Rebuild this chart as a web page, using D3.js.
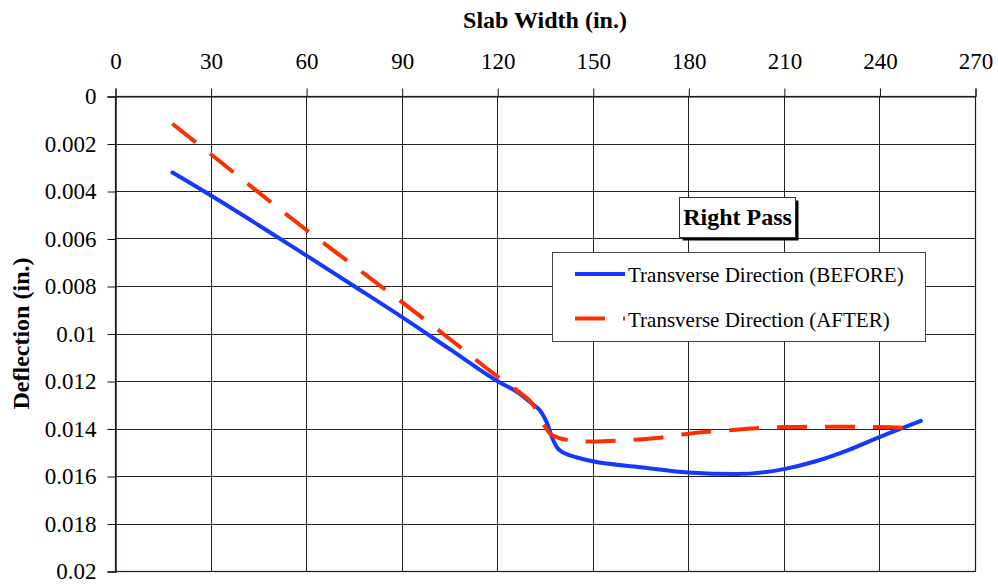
<!DOCTYPE html>
<html>
<head>
<meta charset="utf-8">
<script src="https://cdn.jsdelivr.net/npm/d3@7"></script>
<style>
  body { margin: 0; background: #fff; }
  text { font-family: "Liberation Serif", "Times New Roman", serif; fill: #000; }
  .tickLabel { font-size: 23px; }
  .axisTitle { font-size: 24px; font-weight: bold; }
  .legendText { font-size: 21px; }
</style>
</head>
<body>
<div class="chart-div"></div>
<script>
// slab width positions (in.) and deflections (in.)
const beforeX = [18, 30, 45, 60, 75, 90, 105, 120, 127, 131.3, 133.5, 135.5, 137.3, 138.7, 140.2, 142, 145, 150, 165, 180, 195, 210, 220, 230, 240, 253];
const beforeY = [0.00322, 0.00418, 0.00543, 0.00671, 0.00800, 0.0093, 0.01065, 0.0120, 0.01253, 0.0130, 0.01325, 0.01373, 0.0144, 0.01478, 0.01497, 0.01509, 0.01522, 0.01538, 0.01563, 0.01585, 0.01592, 0.01571, 0.01538, 0.01492, 0.01436, 0.01368];

const afterX = [18, 30, 45, 60, 75, 90, 105, 120, 127, 131, 134.4, 136.5, 139, 145, 150, 160, 170, 180, 190, 200, 210, 220, 230, 240, 253];
const afterY = [0.00117, 0.00244, 0.00405, 0.00563, 0.00715, 0.00867, 0.01022, 0.0118, 0.01248, 0.01295, 0.0138, 0.0142, 0.01438, 0.01452, 0.01455, 0.0145, 0.0144, 0.01422, 0.0141, 0.0140, 0.01394, 0.01393, 0.01393, 0.01394, 0.0140];

const xTicks = [0, 30, 60, 90, 120, 150, 180, 210, 240, 270];
const yTicks = [0, 0.002, 0.004, 0.006, 0.008, 0.01, 0.012, 0.014, 0.016, 0.018, 0.02];

const seriesNames = ["Transverse Direction (BEFORE)", "Transverse Direction (AFTER)"];
const seriesColours = ["#1438ff", "#ff2e00"];

let width = 998;
let height = 586;

const margin = { top: 96, right: 23, bottom: 15, left: 115 };

let svg = d3.select(".chart-div").append("svg")
  .attr("width", width)
  .attr("height", height);

let x = d3.scaleLinear()
  .domain([0, 270])
  .range([margin.left, width - margin.right]);

let y = d3.scaleLinear()
  .domain([0, 0.02])
  .range([margin.top, height - margin.bottom]);

// grid
svg.append("g")
  .attr("class", "grid")
  .selectAll("line.v")
  .data(xTicks)
  .enter()
  .append("line")
  .attr("x1", d => Math.round(x(d)) + 0.5)
  .attr("x2", d => Math.round(x(d)) + 0.5)
  .attr("y1", y(0))
  .attr("y2", y(0.02))
  .attr("stroke", "#222")
  .attr("stroke-width", 1);

svg.select(".grid")
  .selectAll("line.h")
  .data(yTicks)
  .enter()
  .append("line")
  .attr("x1", x(0))
  .attr("x2", x(270))
  .attr("y1", d => Math.round(y(d)) + 0.5)
  .attr("y2", d => Math.round(y(d)) + 0.5)
  .attr("stroke", "#222")
  .attr("stroke-width", 1);

// axes
let xAxis = d3.axisTop(x)
  .tickValues(xTicks)
  .tickSize(8)
  .tickPadding(20)
  .tickFormat(d => d);

let yAxis = d3.axisLeft(y)
  .tickValues(yTicks)
  .tickSize(8)
  .tickPadding(11)
  .tickFormat(d => d3.format("")(+d.toFixed(3)));

svg.append("g")
  .attr("class", "axis xAxis")
  .attr("transform", `translate(0.5, ${Math.round(y(0)) + 0.5})`)
  .call(xAxis)
  .call(g => g.select(".domain").attr("stroke", "#111"))
  .call(g => g.selectAll(".tick line").attr("stroke", "#111"))
  .selectAll("text")
  .attr("class", "tickLabel")
  .attr("fill", "#000");

svg.append("g")
  .attr("class", "axis yAxis")
  .attr("transform", `translate(${Math.round(x(0)) + 0.5}, 0.5)`)
  .call(yAxis)
  .call(g => g.select(".domain").attr("stroke", "#1b1b3a").attr("stroke-width", 1.5))
  .call(g => g.selectAll(".tick line").attr("stroke", "#111"))
  .selectAll("text")
  .attr("class", "tickLabel")
  .attr("fill", "#000")
  .attr("dy", "0.32em");

svg.selectAll(".axis").attr("font-family", null).attr("font-size", null);

// frame
svg.append("rect")
  .attr("x", Math.round(x(0)) + 0.5)
  .attr("y", Math.round(y(0)) + 0.5)
  .attr("width", Math.round(x(270)) - Math.round(x(0)))
  .attr("height", Math.round(y(0.02)) - Math.round(y(0)))
  .attr("fill", "none")
  .attr("stroke", "#1b1b2a")
  .attr("stroke-width", 1.2);

// titles
svg.append("text")
  .attr("class", "axisTitle")
  .attr("x", 545)
  .attr("y", 28)
  .attr("text-anchor", "middle")
  .text("Slab Width (in.)");

svg.append("text")
  .attr("class", "axisTitle")
  .attr("transform", `translate(29, ${(y(0) + y(0.02)) / 2}) rotate(-90)`)
  .attr("text-anchor", "middle")
  .text("Deflection (in.)");

// lines
let line = d3.line()
  .x(d => x(d[0]))
  .y(d => y(d[1]))
  .curve(d3.curveMonotoneX);

let beforeData = beforeX.map((v, i) => [v, beforeY[i]]);
let afterData = afterX.map((v, i) => [v, afterY[i]]);

svg.append("path")
  .datum(beforeData)
  .attr("d", line)
  .attr("fill", "none")
  .attr("stroke", seriesColours[0])
  .attr("stroke-width", 4)
  .attr("stroke-linecap", "round")
  .attr("stroke-linejoin", "round");

svg.append("path")
  .datum(afterData)
  .attr("d", line)
  .attr("fill", "none")
  .attr("stroke", seriesColours[1])
  .attr("stroke-width", 4)
  .attr("stroke-dasharray", "30,18");

// "Right Pass" label
svg.append("rect")
  .attr("x", 682.5)
  .attr("y", 200.5)
  .attr("width", 116)
  .attr("height", 40)
  .attr("fill", "#000");

svg.append("rect")
  .attr("x", 679.5)
  .attr("y", 197.5)
  .attr("width", 116)
  .attr("height", 40)
  .attr("fill", "#fff")
  .attr("stroke", "#333");

svg.append("text")
  .attr("class", "axisTitle")
  .attr("x", 737.5)
  .attr("y", 225)
  .attr("text-anchor", "middle")
  .text("Right Pass");

// legend
let legend = svg.append("g").attr("class", "legend");

legend.append("rect")
  .attr("x", 552.5)
  .attr("y", 252.5)
  .attr("width", 373)
  .attr("height", 89)
  .attr("fill", "#fff")
  .attr("stroke", "#444");

legend.selectAll("line.key")
  .data(seriesNames)
  .enter()
  .append("line")
  .attr("x1", 575)
  .attr("x2", 625)
  .attr("y1", (d, i) => 274 + i * 44.5)
  .attr("y2", (d, i) => 274 + i * 44.5)
  .attr("stroke", (d, i) => seriesColours[i])
  .attr("stroke-width", 4)
  .attr("stroke-dasharray", (d, i) => i == 1 ? "30,18" : null);

legend.selectAll("text.legendText")
  .data(seriesNames)
  .enter()
  .append("text")
  .attr("class", "legendText")
  .attr("x", 628)
  .attr("y", (d, i) => 282 + i * 44.5)
  .text(d => d);
</script>
</body>
</html>
